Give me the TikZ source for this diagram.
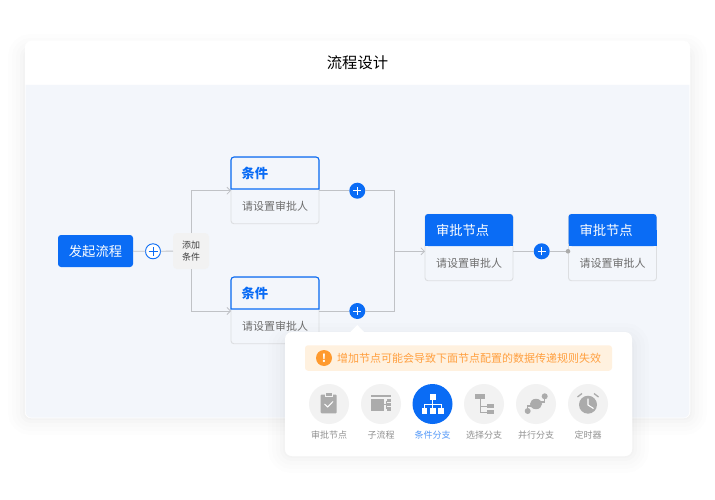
\documentclass[tikz,border=0pt]{standalone}
\usepackage{fontspec}
\setmainfont{Noto Sans CJK SC}
\usetikzlibrary{arrows.meta}
\definecolor{mainblue}{HTML}{0A6CF5}
\definecolor{panelbg}{HTML}{F3F6FB}
\definecolor{linegray}{HTML}{C0C2C6}
\definecolor{boxline}{HTML}{DCDEE1}
\definecolor{subtext}{HTML}{6E6E6E}
\definecolor{iconbg}{HTML}{F2F2F2}
\definecolor{icongray}{HTML}{ABABAB}
\definecolor{warnbg}{HTML}{FFF1DF}
\definecolor{warntext}{HTML}{FFA040}
\definecolor{warnicon}{HTML}{FF9A2E}

\begin{document}
\begin{tikzpicture}
    [x=1pt,y=-1pt,
    every node/.style={inner sep=0,outer sep=0},
    softglow/.style={preaction={draw=black,opacity=.007,line width=34},preaction={draw=black,opacity=.008,line width=26},preaction={draw=black,opacity=.008,line width=18},preaction={draw=black,opacity=.010,line width=10},preaction={draw=black,opacity=.012,line width=4}},
    link/.style={draw=linegray,line width=.9},
    linkto/.style={link,-{Straight Barb[length=3.5,width=7,line width=.8]}},
    startbox/.style={rectangle,rounded corners=3,fill=mainblue,text=white,minimum width=75,minimum height=32,font=\fontsize{13.3}{16}\selectfont},
    addbox/.style={rectangle,rounded corners=4,fill=iconbg,text=black!75,minimum width=36,minimum height=36,align=center,font=\fontsize{9}{12}\selectfont},
    cardbox/.style={rectangle,rounded corners=3,draw=boxline,line width=.9,fill=panelbg,minimum width=88,minimum height=66.5},
    headbox/.style={rectangle,minimum width=88,minimum height=32},
    headtext/.style={anchor=west,font=\fontsize{13.3}{16}\selectfont},
    subbox/.style={anchor=west,text=subtext,font=\fontsize{11}{14}\selectfont},
    addbtn/.style={circle,fill=mainblue,minimum size=16,path picture={\draw[white,line width=.9] ([xshift=-4]path picture bounding box.center) -- ([xshift=4]path picture bounding box.center) ([yshift=-4]path picture bounding box.center) -- ([yshift=4]path picture bounding box.center);}},
    addring/.style={circle,draw=mainblue,line width=.9,fill=white,minimum size=15,path picture={\draw[mainblue,line width=.8] ([xshift=-4.5]path picture bounding box.center) -- ([xshift=4.5]path picture bounding box.center) ([yshift=-4.5]path picture bounding box.center) -- ([yshift=4.5]path picture bounding box.center);}},
    toolbtn/.style={circle,fill=iconbg,minimum size=40},
    toolname/.style={text=icongray!85!black,font=\fontsize{9}{11}\selectfont}]
    \useasboundingbox (0,0) rectangle (715,500);

    % card and header
    \node[rectangle,rounded corners=6,fill=white,softglow,minimum width=665,minimum height=367] (cardglow) at (357.5,234.5) {};
    \node[rectangle,rounded corners=6,fill=white,minimum width=665,minimum height=377] (card) at (357.5,229.5) {};
    \fill[panelbg] (25.7,85) -- (689.3,85) [rounded corners=6] -- (689.3,417.7) -- (25.7,417.7) [sharp corners] -- cycle;
    \node[font=\fontsize{15.3}{18}\selectfont] (title) at (357.5,63) {流程设计};

    % flow nodes
    \node[startbox] (start) at (95.5,251) {发起流程};
    \node[addring] (plus0) at (153,251.3) {};
    \node[addbox] (addc) at (191,251) {添加\\条件};

    \node[cardbox] (c1) at (275,190.5) {};
    \node[headbox] (c1h) at (275,173) {};
    \draw[mainblue,line width=1.1,rounded corners=3] (c1h.south west) -- (c1h.north west) -- (c1h.north east) [sharp corners] -- (c1h.south east) -- cycle;
    \node[headtext,text=mainblue] (c1t) at (241.5,173) {\textbf{条件}};
    \node[subbox] (c1s) at (242,206) {请设置审批人};

    \node[cardbox] (c2) at (275,310.5) {};
    \node[headbox] (c2h) at (275,293) {};
    \draw[mainblue,line width=1.1,rounded corners=3] (c2h.south west) -- (c2h.north west) -- (c2h.north east) [sharp corners] -- (c2h.south east) -- cycle;
    \node[headtext,text=mainblue] (c2t) at (241.5,293) {\textbf{条件}};
    \node[subbox] (c2s) at (242,326) {请设置审批人};

    \node[cardbox] (a1) at (469,247.5) {};
    \node[headbox,rounded corners=3,fill=mainblue] (a1h) at (469,230) {};
    \fill[mainblue] (a1h.west) rectangle (a1h.south east);
    \node[headtext,text=white] (a1t) at (436,230) {审批节点};
    \node[subbox] (a1s) at (436,263.5) {请设置审批人};

    \node[cardbox] (a2) at (612.5,247.5) {};
    \node[headbox,rounded corners=3,fill=mainblue] (a2h) at (612.5,230) {};
    \fill[mainblue] (a2h.west) rectangle (a2h.south east);
    \node[headtext,text=white] (a2t) at (579.5,230) {审批节点};
    \node[subbox] (a2s) at (579.5,263.5) {请设置审批人};

    \node[addbtn] (plus1) at (357.3,190.7) {};
    \node[addbtn] (plus2) at (357.3,311) {};
    \node[addbtn] (plus3) at (541.7,251.3) {};

    % connectors
    \coordinate (j1) at (394.7,190.7);
    \coordinate (j2) at (394.7,311);
    \coordinate (j3) at (394.7,251.3);
    \coordinate (a1in) at (425,251.3);
    \coordinate (a1out) at (513,251.3);
    \coordinate (a2in) at (568,251.3);
    \coordinate (c1in) at (231,190.7);
    \coordinate (c2in) at (231,311);
    \coordinate (c1out) at (319,190.7);
    \coordinate (c2out) at (319,311);

    \draw[link] (start) -- (plus0);
    \draw[link] (plus0) -- (addc);
    \draw[linkto] (addc) |- (c1in);
    \draw[linkto] (addc) |- (c2in);
    \draw[link] (c1out) -- (plus1);
    \draw[link] (c2out) -- (plus2);
    \draw[link] (plus1) -- (j1) -- (j2) -- (plus2);
    \draw[linkto] (j3) -- (a1in);
    \draw[link] (a1out) -- (plus3);
    \draw[link] (plus3) -- (a2in);
    \node[circle,fill=icongray,minimum size=4.6] (dot) at (a2in) {};

    % popup
    \node[rectangle,rounded corners=7,fill=white,softglow,minimum width=347,minimum height=116] (popupglow) at (458.5,398) {};
    \node[rectangle,rounded corners=7,fill=white,minimum width=347,minimum height=124] (popup) at (458.5,394) {};
    \fill[white] (350,332.5) -- (357.3,325) -- (364.6,332.5) -- cycle;
    \node[rectangle,rounded corners=3,fill=warnbg,minimum width=307,minimum height=25.5] (warn) at (458.5,358) {};
    \node[circle,fill=warnicon,text=white,minimum size=16,font=\fontsize{11}{12}\selectfont\bfseries] (warnmark) at (324,358) {!};
    \node[anchor=west,text=warntext,font=\fontsize{11}{14}\selectfont] (warnt) at (337,358) {增加节点可能会导致下面节点配置的数据传递规则失效};

    \node[toolbtn] (t1) at (329,404) {};
    \node[toolbtn] (t2) at (381,404) {};
    \node[toolbtn,fill=mainblue] (t3) at (432.5,404) {};
    \node[toolbtn] (t4) at (484,404) {};
    \node[toolbtn] (t5) at (536,404) {};
    \node[toolbtn] (t6) at (588,404) {};

    \node[toolname] (n1) at (329,435) {审批节点};
    \node[toolname] (n2) at (381,435) {子流程};
    \node[toolname,text=mainblue!70] (n3) at (432.5,435) {条件分支};
    \node[toolname] (n4) at (484,435) {选择分支};
    \node[toolname] (n5) at (536,435) {并行分支};
    \node[toolname] (n6) at (588,435) {定时器};

    % clipboard
    \fill[icongray,rounded corners=1] (320.7,394.5) rectangle (336.7,413.3);
    \fill[iconbg] (324.5,392.5) rectangle (332.9,397);
    \fill[icongray] (325.5,393) rectangle (331.9,396);
    \draw[white,line width=1] (324.5,404) -- (327.7,407) -- (333,401.5);

    % sub flow
    \fill[icongray] (371,394.5) rectangle (390.7,396.7);
    \fill[icongray] (371,399) rectangle (384,410.5);
    \draw[icongray,line width=.9] (384,404.7) -- (387,404.7) (386,401) -- (386,408.5);
    \fill[icongray] (386.5,399) rectangle (390.7,402.3);
    \fill[icongray] (386.5,403) rectangle (390.7,406.3);
    \fill[icongray] (386.5,407.2) rectangle (390.7,410.5);

    % branch
    \fill[white] (429.5,394) rectangle (435.5,400);
    \draw[white,line width=1] (432.5,400) -- (432.5,408) (424.3,408) -- (424.3,404) -- (441,404) -- (441,408);
    \fill[white] (421.5,408) rectangle (427,413.5);
    \fill[white] (430,408) rectangle (435.5,413.5);
    \fill[white] (438.2,408) rectangle (443.7,413.5);

    % select branch
    \fill[icongray] (475,394) rectangle (485,399.3);
    \draw[icongray,line width=1] (480,399.3) -- (480,412) -- (487,412) (480,406) -- (487,406);
    \fill[icongray] (487,403.8) rectangle (494,408.3);
    \fill[icongray] (487,409.8) rectangle (494,414.3);

    % parallel
    \draw[icongray,line width=1.2] (527.7,411) -- (527.7,406) -- (532,406) (540,402) -- (544.7,402) -- (544.7,396.3);
    \fill[icongray] (536,404) ellipse (6 and 5.2);
    \fill[icongray] (544.7,396.3) circle (3);
    \fill[icongray] (527.7,411) circle (3);

    % timer
    \fill[icongray] (588,404.7) circle (9);
    \draw[white,line width=1.1] (588,398.5) -- (588,405) -- (593.5,408.5);
    \draw[icongray,line width=1.3] (577.5,397) -- (582,393.5) (594,393.5) -- (598.5,397);
\end{tikzpicture}
\end{document}
